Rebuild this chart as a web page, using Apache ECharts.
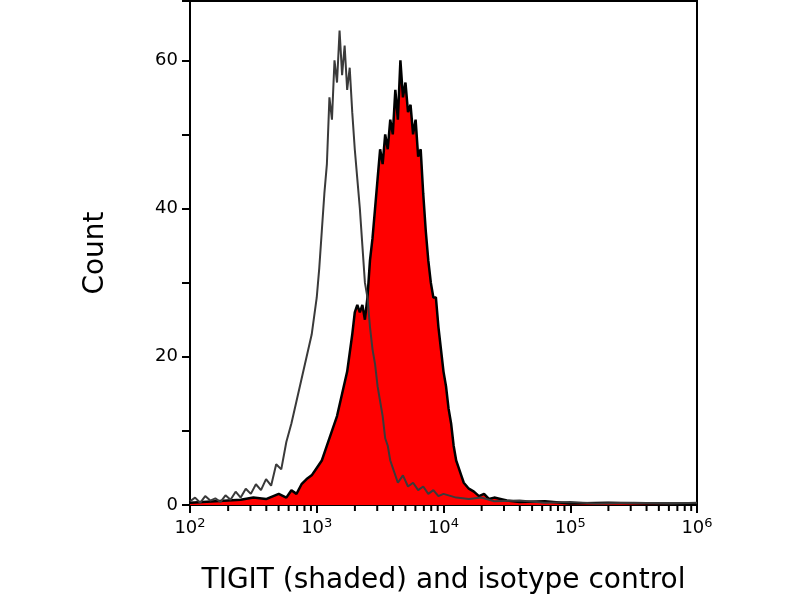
<!DOCTYPE html>
<html><head><meta charset="utf-8">
<script src="https://cdn.jsdelivr.net/npm/echarts@6/dist/echarts.min.js"></script>
<style>html,body{margin:0;padding:0;background:#fff}#c{width:800px;height:600px}</style>
</head><body><div id="c"></div>
<script>
// x values are log10(fluorescence)
const isoX=[2.00,2.04,2.08,2.12,2.16,2.20,2.24,2.28,2.32,2.36,2.40,2.44,2.48,2.52,2.56,2.60,2.64,2.68,2.72,2.76,2.80,2.84,2.88,2.92,2.96,3.00,3.02,3.04,3.06,3.08,3.10,3.12,3.14,3.16,3.18,3.20,3.22,3.24,3.26,3.28,3.30,3.32,3.34,3.36,3.38,3.40,3.42,3.44,3.46,3.48,3.50,3.52,3.54,3.56,3.58,3.60,3.64,3.68,3.72,3.76,3.80,3.84,3.88,3.92,3.96,4.00,4.10,4.20,4.30,4.40,4.60,4.80,5.00,5.20,5.50,5.80,6.00];
const isoY=[0.5,1,0.3,1.2,0.6,0.9,0.4,1.3,0.7,1.8,1.0,2.2,1.5,2.8,2.0,3.5,2.6,5.5,4.8,8.5,11,14,17,20,23,28,32,37,42,46,55,52,60,57,64,58,62,56,59,53,48,44,40,35,30,28,24,21,19,16,14,12,9,8,6,5,3,4,2.5,3,2,2.5,1.5,2,1.2,1.5,1,0.8,1,0.5,0.6,0.3,0.4,0.2,0.3,0.2,0.3];
const tigX=[2.0,2.2,2.4,2.5,2.6,2.7,2.76,2.8,2.84,2.88,2.92,2.96,3.00,3.04,3.08,3.12,3.16,3.20,3.24,3.28,3.30,3.32,3.34,3.36,3.38,3.40,3.42,3.44,3.46,3.48,3.50,3.52,3.54,3.56,3.58,3.60,3.62,3.64,3.66,3.68,3.70,3.72,3.74,3.76,3.78,3.80,3.82,3.84,3.86,3.88,3.90,3.92,3.94,3.96,3.98,4.00,4.02,4.04,4.06,4.08,4.10,4.12,4.14,4.16,4.20,4.24,4.28,4.32,4.36,4.40,4.50,4.60,4.80,5.00,5.30,5.60,6.00];
const tigY=[0.3,0.5,0.7,1,0.8,1.5,1,2,1.5,2.8,3.5,4,5,6,8,10,12,15,18,23,26,27,26,27,25,28,33,36,40,44,48,46,50,48,52,50,56,52,60,55,57,53,54,50,52,47,48,42,37,33,30,28,28,24,21,18,16,13,11,8,6,5,4,3,2.2,1.8,1.2,1.5,0.8,1,0.6,0.4,0.5,0.2,0.3,0.2,0.2];
const decades=[2,3,4,5,6];
const minorMult=[2,3,4,5,6,7,8,9];
const yTicks=[0,20,40,60];

const zip=(a,b)=>a.map((v,i)=>[v,b[i]]);
const minorPos=[];
decades.slice(0,-1).forEach(d=>minorMult.forEach(m=>minorPos.push([d+Math.log10(m),0])));
const font='DejaVu Sans';
const chart=echarts.init(document.getElementById('c'));
chart.setOption({
  animation:false,
  grid:{left:190,right:103,top:1,bottom:90,show:true,borderColor:'#000',borderWidth:2},
  xAxis:{type:'value',min:2,max:6,interval:1,
    name:'TIGIT (shaded) and isotype control',nameLocation:'middle',nameGap:62,
    nameTextStyle:{fontFamily:font,fontSize:28,color:'#000'},
    axisLine:{lineStyle:{color:'#000',width:2}},
    axisTick:{length:8,lineStyle:{color:'#000',width:2}},
    splitLine:{show:false},
    axisLabel:{margin:12,formatter:v=>'{b|10}{s|'+v+'}',
      rich:{b:{fontFamily:font,fontSize:18,color:'#000'},s:{fontFamily:font,fontSize:13,color:'#000',verticalAlign:'top',padding:[0,0,10,0]}}}},
  yAxis:{type:'value',min:0,max:68,interval:10,
    name:'Count',nameLocation:'middle',nameGap:80,nameRotate:90,
    nameTextStyle:{fontFamily:font,fontSize:28,color:'#000'},
    axisLine:{lineStyle:{color:'#000',width:2}},
    axisTick:{length:8,lineStyle:{color:'#000',width:2}},
    splitLine:{show:false},
    axisLabel:{fontFamily:font,fontSize:18,color:'#000',margin:12,formatter:v=>yTicks.includes(v)?String(v):''}},
  series:[
    {type:'line',data:zip(tigX,tigY),symbol:'none',lineStyle:{color:'#000',width:2.5},areaStyle:{color:'#ff0000',opacity:1},z:2},
    {type:'line',data:zip(isoX,isoY),symbol:'none',lineStyle:{color:'#3a3a3a',width:2},z:3},
    {type:'custom',data:minorPos,clip:false,z:5,renderItem:(p,api)=>{
      const c=api.coord([api.value(0),0]);
      return {type:'line',shape:{x1:c[0],y1:c[1],x2:c[0],y2:c[1]+6},style:{stroke:'#000',lineWidth:2}};}}
  ]
});
</script></body></html>
